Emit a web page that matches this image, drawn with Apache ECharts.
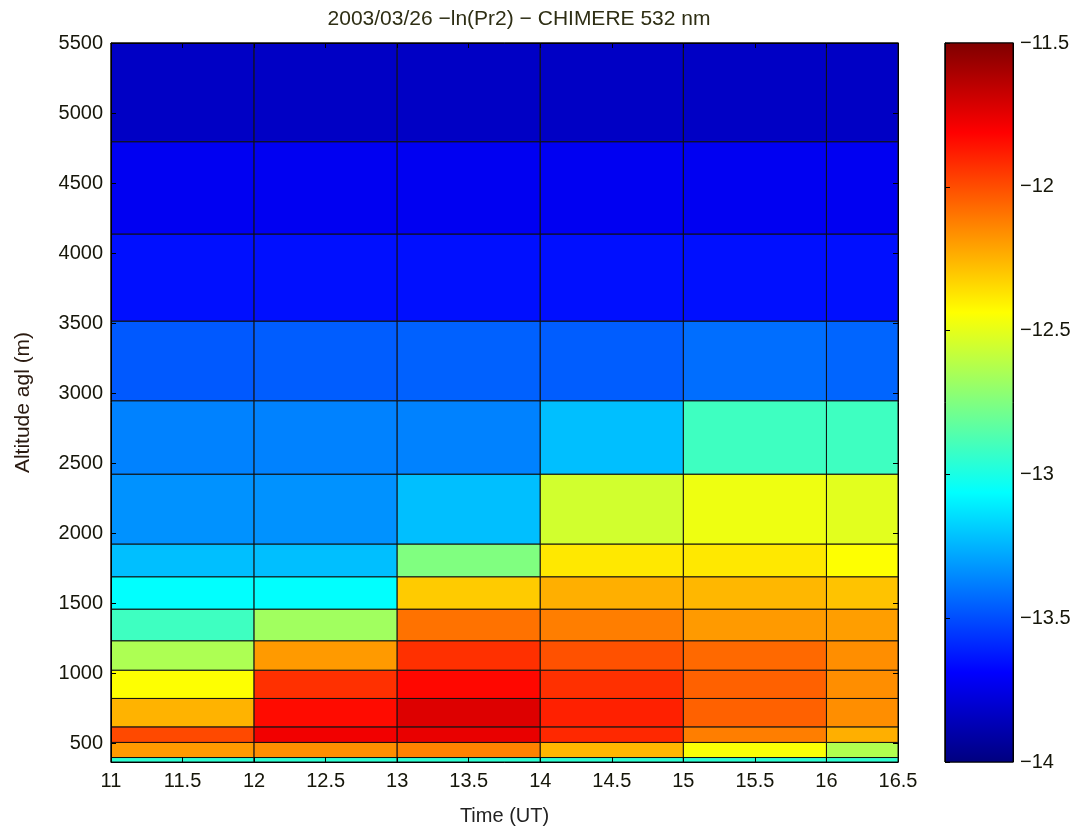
<!DOCTYPE html>
<html>
<head>
<meta charset="utf-8">
<script src="https://cdn.jsdelivr.net/npm/echarts@6/dist/echarts.min.js"></script>
<style>
html,body{margin:0;padding:0;background:#fff;}
#chart{width:1079px;height:832px;}
</style>
</head>
<body>
<div id="chart"></div>
<script>
// Time column edges (UT)
var timeEdges = [11, 12, 13, 14, 15, 16, 16.5];
// Altitude row edges (m agl), bottom to top
var altEdges = [365, 397, 505, 616, 819, 1021, 1231, 1457, 1688, 1922, 2421, 2945, 3514, 4136, 4795, 5500];
// -ln(Pr2) values: one row per altitude layer (bottom to top), one entry per time column
var row0  = [-12.95, -12.95, -12.95, -12.95, -12.95, -12.95];
var row1  = [-12.19, -12.16, -12.13, -12.26, -12.45, -12.63];
var row2  = [-11.99, -11.78, -11.76, -11.91, -12.12, -12.24];
var row3  = [-12.25, -11.84, -11.73, -11.89, -12.05, -12.16];
var row4  = [-12.44, -11.93, -11.83, -11.93, -12.05, -12.16];
var row5  = [-12.64, -12.19, -11.93, -12.01, -12.07, -12.16];
var row6  = [-12.91, -12.67, -12.09, -12.12, -12.19, -12.20];
var row7  = [-13.06, -13.06, -12.31, -12.24, -12.26, -12.29];
var row8  = [-13.22, -13.22, -12.75, -12.38, -12.38, -12.44];
var row9  = [-13.33, -13.33, -13.22, -12.55, -12.48, -12.51];
var row10 = [-13.37, -13.37, -13.37, -13.22, -12.91, -12.91];
var row11 = [-13.47, -13.46, -13.45, -13.46, -13.42, -13.44];
var row12 = [-13.65, -13.65, -13.65, -13.65, -13.65, -13.65];
var row13 = [-13.72, -13.72, -13.72, -13.72, -13.72, -13.72];
var row14 = [-13.83, -13.83, -13.83, -13.83, -13.83, -13.83];
var rows = [row0,row1,row2,row3,row4,row5,row6,row7,row8,row9,row10,row11,row12,row13,row14];
var yTicks = [500,1000,1500,2000,2500,3000,3500,4000,4500,5000,5500];
var cbTicks = [-14,-13.5,-13,-12.5,-12,-11.5];
var jet = ['#00007F','#0000FF','#0080FF','#00FFFF','#80FF80','#FFFF00','#FF8000','#FF0000','#7F0000'];

var cells = [];
for (var r = 0; r < rows.length; r++) {
  for (var c = 0; c < timeEdges.length - 1; c++) {
    cells.push([timeEdges[c], timeEdges[c+1], altEdges[r], altEdges[r+1], rows[r][c]]);
  }
}

var FONT = 'Liberation Sans, Arial, sans-serif';
var LBL = {fontFamily: FONT, fontSize: 20, color: '#16160a'};
var tickStyle = {show: true, inside: true, length: 5, lineStyle: {color: '#000'}};
function minus(v) { return String(v).replace('-', '\u2212'); }

var chart = echarts.init(document.getElementById('chart'));
chart.setOption({
  backgroundColor: '#ffffff',
  animation: false,
  title: {
    text: '2003/03/26 \u2212ln(Pr2) \u2212 CHIMERE 532 nm',
    left: 514, top: 4, textAlign: 'center',
    textStyle: {fontFamily: FONT, fontSize: 21, fontWeight: 'normal', color: '#2e2e14'}
  },
  grid: [
    {left: 111, top: 43, width: 787, height: 719, show: true, borderColor: '#000', borderWidth: 1,
     backgroundColor: 'transparent', containLabel: false, outerBoundsMode: 'none'},
    {left: 945, top: 43, width: 68, height: 719, show: true, borderColor: '#000', borderWidth: 1,
     backgroundColor: 'transparent', containLabel: false, outerBoundsMode: 'none'}
  ],
  xAxis: [
    {type: 'value', gridIndex: 0, min: 11, max: 16.5, interval: 0.5, z: 5,
     name: 'Time (UT)', nameLocation: 'middle', nameGap: 44,
     nameTextStyle: {fontFamily: FONT, fontSize: 20, color: '#222'},
     axisLine: {show: true, onZero: false, lineStyle: {color: '#000'}},
     axisTick: tickStyle,
     axisLabel: Object.assign({margin: 9}, LBL),
     splitLine: {show: false}},
    {type: 'value', gridIndex: 1, min: 0, max: 1, show: false},
    {type: 'value', gridIndex: 0, min: 11, max: 16.5, interval: 0.5, position: 'top', z: 5,
     axisLine: {show: true, onZero: false, lineStyle: {color: '#000'}},
     axisTick: tickStyle, axisLabel: {show: false}, splitLine: {show: false}}
  ],
  yAxis: [
    {type: 'value', gridIndex: 0, min: 365, max: 5500, z: 5,
     name: 'Altitude agl (m)', nameLocation: 'middle', nameGap: 77, nameRotate: 90,
     nameTextStyle: {fontFamily: FONT, fontSize: 21, color: '#2a1a10'},
     axisLine: {show: true, onZero: false, lineStyle: {color: '#000'}},
     axisTick: Object.assign({customValues: yTicks}, tickStyle),
     axisLabel: Object.assign({margin: 8, customValues: yTicks, formatter: function (v) { return String(v); }}, LBL),
     splitLine: {show: false}},
    {type: 'value', gridIndex: 1, min: -14, max: -11.5, interval: 0.5, position: 'right', z: 5,
     axisLine: {show: true, onZero: false, lineStyle: {color: '#000'}},
     axisTick: {show: false},
     axisLabel: Object.assign({margin: 7, formatter: minus}, LBL),
     splitLine: {show: false}},
    {type: 'value', gridIndex: 0, min: 365, max: 5500, position: 'right', z: 5,
     axisLine: {show: true, onZero: false, lineStyle: {color: '#000'}},
     axisTick: Object.assign({customValues: yTicks}, tickStyle),
     axisLabel: {show: false}, splitLine: {show: false}},
    {type: 'value', gridIndex: 1, min: -14, max: -11.5, interval: 0.5, position: 'left', z: 5,
     axisLine: {show: true, onZero: false, lineStyle: {color: '#000'}},
     axisTick: tickStyle, axisLabel: {show: false}, splitLine: {show: false}}
  ],
  visualMap: {
    show: false, type: 'continuous', seriesIndex: 0, dimension: 4,
    min: -14, max: -11.5, inRange: {color: jet}
  },
  series: [
    {
      type: 'custom', xAxisIndex: 0, yAxisIndex: 0, z: 2,
      data: cells,
      encode: {x: [0, 1], y: [2, 3]},
      renderItem: function (params, api) {
        var p0 = api.coord([api.value(0), api.value(3)]);
        var p1 = api.coord([api.value(1), api.value(2)]);
        return {
          type: 'rect',
          shape: {x: p0[0], y: p0[1], width: p1[0] - p0[0], height: p1[1] - p0[1]},
          style: {fill: api.visual('color'), stroke: '#111', lineWidth: 1}
        };
      }
    },
    {
      type: 'custom', xAxisIndex: 1, yAxisIndex: 1, z: 2,
      data: [[0, 1, -14, -11.5]],
      renderItem: function (params, api) {
        var p0 = api.coord([api.value(0), api.value(3)]);
        var p1 = api.coord([api.value(1), api.value(2)]);
        var stops = jet.map(function (col, i) {
          return {offset: 1 - i / (jet.length - 1), color: col};
        }).reverse();
        return {
          type: 'rect',
          shape: {x: p0[0], y: p0[1], width: p1[0] - p0[0], height: p1[1] - p0[1]},
          style: {fill: new echarts.graphic.LinearGradient(0, 0, 0, 1, stops), stroke: '#000', lineWidth: 1}
        };
      }
    }
  ]
});
</script>
</body>
</html>
